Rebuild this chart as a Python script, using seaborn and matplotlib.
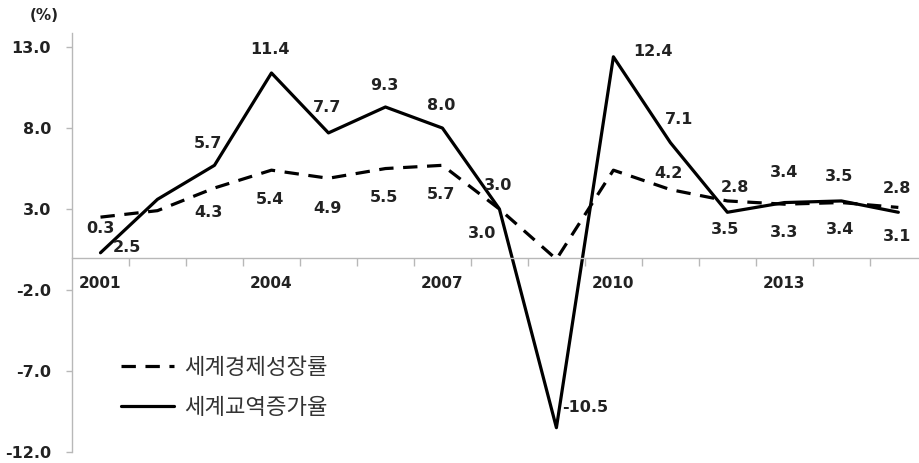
import matplotlib
matplotlib.use("Agg")
import matplotlib.pyplot as plt
from matplotlib.ticker import FixedLocator
import seaborn as sns
import pandas as pd

# Annual rates, 2001-2015 (%)
years = list(range(2001, 2016))
growth_label = "세계경제성장률"
trade_label = "세계교역증가율"
world_growth = [2.5, 2.9, 4.3, 5.4, 4.9, 5.5, 5.7, 3.0, -0.1, 5.4, 4.2, 3.5, 3.3, 3.4, 3.1]
trade_growth = [0.3, 3.6, 5.7, 11.4, 7.7, 9.3, 8.0, 3.0, -10.5, 12.4, 7.1, 2.8, 3.4, 3.5, 2.8]
year_ticks = [2001, 2004, 2007, 2010, 2013]
y_ticks = [-12.0, -7.0, -2.0, 3.0, 8.0, 13.0]

df = pd.concat([
    pd.DataFrame({"year": years, "rate": world_growth, "series": growth_label}),
    pd.DataFrame({"year": years, "rate": trade_growth, "series": trade_label}),
])

sns.set_style("white")
plt.rcParams["font.family"] = ["DejaVu Sans", "Noto Sans CJK KR"]

W, H = 920, 463
fig = plt.figure(figsize=(W / 100, H / 100), dpi=100)
ax = fig.add_axes([72 / W, 0.0238, 1 - 72 / W, 0.906])

sns.lineplot(
    data=df, x="year", y="rate", style="series",
    style_order=[growth_label, trade_label],
    dashes={growth_label: (4.5, 3), trade_label: ""},
    color="black", linewidth=2.3, ax=ax, legend=True,
)

ax.set_xlim(2000.5, 2015.38)
ax.set_ylim(-12, 13.9)

# spines: left axis and a baseline at zero
grey = "#b8b8b8"
for side in ("top", "right"):
    ax.spines[side].set_visible(False)
ax.spines["left"].set_color(grey)
ax.spines["bottom"].set_color(grey)
ax.spines["left"].set_linewidth(1.0)
ax.spines["bottom"].set_linewidth(1.0)
ax.spines["bottom"].set_position(("data", 0))

ax.set_xticks(year_ticks)
ax.set_xticklabels([str(y) for y in year_ticks], fontweight="bold",
                   fontsize=11, color="#222222")
ax.xaxis.set_minor_locator(FixedLocator([y + 0.5 for y in years[:-1]]))
ax.tick_params(axis="x", which="major", bottom=True, length=0, pad=13)
ax.tick_params(axis="x", which="minor", bottom=True, length=6, width=1,
               color=grey, direction="out")

ax.set_yticks(y_ticks)
ax.set_yticklabels([f"{v:.1f}" for v in y_ticks], fontweight="bold",
                   fontsize=11.5, color="#222222")
ax.tick_params(axis="y", left=True, length=4, width=1, color=grey,
               direction="out", pad=11)
ax.set_xlabel("")
ax.set_ylabel("")

fig.text(44 / W, 1 - 16 / H, "(%)", ha="center", va="center",
         fontweight="bold", fontsize=11, color="#222222")

# value labels: offsets in pixels (dx right, dy down); None = no label
trade_off = [(0, -24), None, (-6, -22), (-2, -23), (-1, -25), (-1, -22),
             (-1, -23), (-1, -24), "left", (40, -5), (9, -23), (8, -25),
             (0, -30), (-2, -24), (-1, -24)]
growth_off = [(26, 30), None, (-6, 25), (-1, 29), (-1, 30), (-1, 29),
              (-1, 29), (-17, 24), None, None, (-2, -16), (-2, 29),
              (0, 28), (-1, 27), (-1, 29)]

px = 0.72
def put_labels(values, offsets):
    for yr, v, off in zip(years, values, offsets):
        if off is None:
            continue
        ha = "center"
        if off == "left":
            off, ha = (6, -20), "left"
        ax.annotate(f"{v:.1f}", (yr, v), xytext=(off[0] * px, -off[1] * px),
                    textcoords="offset points", ha=ha, va="center",
                    fontsize=11.5, fontweight="bold", color="#222222")

put_labels(trade_growth, trade_off)
put_labels(world_growth, growth_off)

handles, labels = ax.get_legend_handles_labels()
ax.legend(handles, labels, loc="upper left",
          bbox_to_anchor=(121 / W, 1 - 356 / H), bbox_transform=fig.transFigure,
          frameon=False, handlelength=2.4, handletextpad=0.45, labelspacing=0.75,
          borderpad=0, borderaxespad=0,
          prop={"family": "Noto Sans CJK KR", "size": 16},
          labelcolor="#333333")

fig.savefig("out.png", dpi=100)
